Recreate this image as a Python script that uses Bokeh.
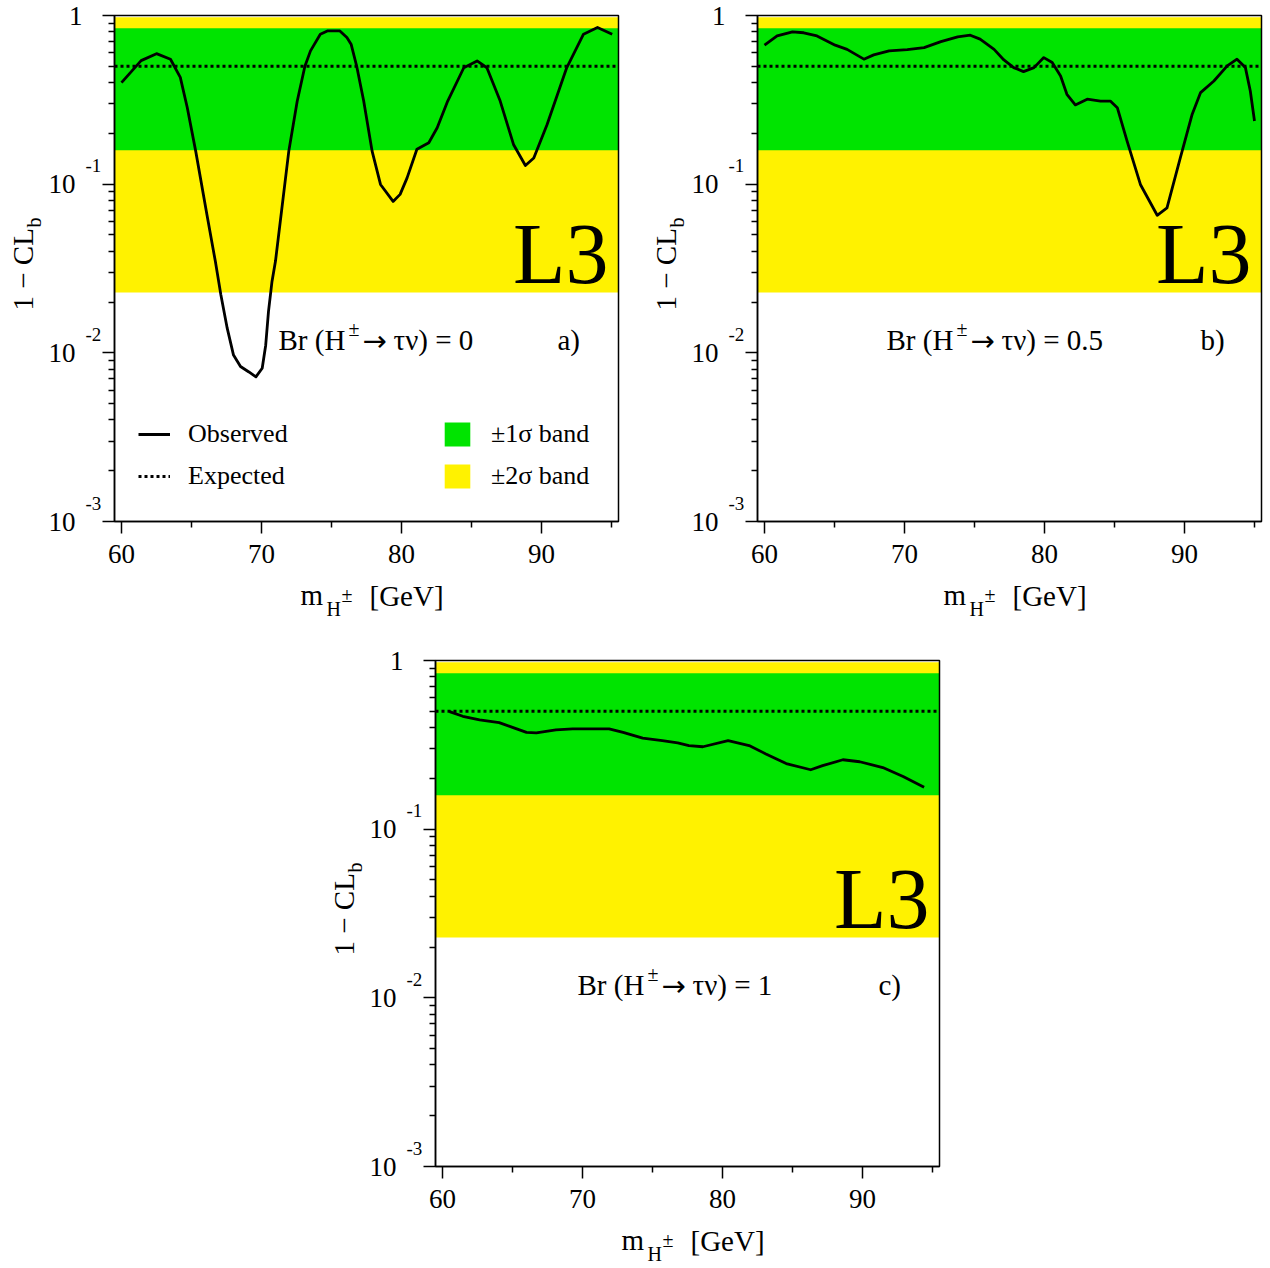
import math

from bokeh.plotting import figure
from bokeh.layouts import column, row, Spacer
from bokeh.models import FixedTicker, Label, Legend, LegendItem, BoxAnnotation
from bokeh.embed import file_html
from bokeh.resources import INLINE

# 1 - CL_b versus charged Higgs mass, three branching ratio hypotheses
mass_a = [60.0, 61.4, 62.5, 63.5, 64.2, 64.7, 65.3, 66.1, 66.7, 67.1, 67.55, 68.0,
          68.5, 69.1, 69.6, 70.05, 70.3, 70.5, 70.75, 71.0, 71.95, 72.55, 73.1, 73.5,
          74.2, 74.7, 75.6, 76.1, 76.4, 76.8, 77.3, 77.9, 78.5, 79.4, 79.9, 80.4,
          81.1, 81.95, 82.55, 83.3, 84.45, 85.4, 86.1, 87.05, 88.0, 88.85, 89.45,
          90.4, 91.8, 93.0, 94.0, 95.05]
obs_a = [0.40, 0.54, 0.594, 0.55, 0.43, 0.284, 0.157, 0.066, 0.035, 0.022, 0.014, 0.0097,
         0.0083, 0.0077, 0.0072, 0.0081, 0.0111, 0.0176, 0.0265, 0.035, 0.157, 0.31, 0.5, 0.617,
         0.775, 0.81, 0.81, 0.74, 0.676, 0.5, 0.311, 0.157, 0.0996, 0.079, 0.087, 0.109,
         0.161, 0.176, 0.216, 0.311, 0.49, 0.538, 0.49, 0.311, 0.172, 0.129, 0.143,
         0.226, 0.49, 0.775, 0.85, 0.775]

mass_b = [60.0, 60.9, 62.0, 62.8, 63.75, 65.05, 65.9, 67.1, 67.8, 68.9, 70.2, 71.4,
          72.6, 73.8, 74.7, 75.4, 76.4, 77.1, 77.8, 78.5, 79.25, 79.95, 80.55, 81.15,
          81.6, 82.2, 83.05, 84.0, 84.7, 85.2, 85.9, 86.85, 88.05, 88.75, 89.7, 90.55,
          91.15, 92.1, 93.05, 93.75, 94.35, 94.7, 95.0]
obs_b = [0.667, 0.757, 0.80, 0.79, 0.757, 0.667, 0.63, 0.551, 0.584, 0.617, 0.628, 0.645,
         0.70, 0.747, 0.764, 0.724, 0.63, 0.545, 0.491, 0.465, 0.491, 0.563, 0.526, 0.438,
         0.341, 0.295, 0.319, 0.311, 0.311, 0.284, 0.18, 0.0996, 0.0654, 0.0723, 0.143, 0.26,
         0.349, 0.409, 0.503, 0.551, 0.491, 0.357, 0.237]

mass_c = [60.5, 61.45, 62.65, 64.05, 65.0, 66.0, 66.7, 68.1, 69.3, 71.9, 72.9, 74.3,
          75.7, 76.8, 77.6, 78.6, 80.4, 81.9, 83.1, 84.55, 86.3, 87.15, 88.6, 89.8,
          91.45, 92.9, 94.4]
obs_c = [0.498, 0.467, 0.444, 0.428, 0.401, 0.375, 0.372, 0.388, 0.393, 0.393, 0.375, 0.347,
         0.335, 0.325, 0.313, 0.308, 0.335, 0.313, 0.279, 0.245, 0.225, 0.238, 0.258, 0.251,
         0.232, 0.205, 0.177]

expected = 0.5
band_1s = [0.159, 0.841]
band_2s = [0.0228, 0.977]

x_ticks = [60, 70, 80, 90]
x_minor = [65, 75, 85, 95]
y_ticks = [0.001, 0.01, 0.1, 1]
y_exps = ["-3", "-2", "-1"]
br_values = ["0", "0.5", "1"]
tags = ["a)", "b)", "c)"]

XMIN, XMAX = 59.5, 95.5
YMIN, YMAX = 1e-3, 1.0
FW, FH = 504, 506
NDEC = math.log10(YMAX) - math.log10(YMIN)
PX_X = FW / (XMAX - XMIN)
PX_DEC = FH / NDEC
GREEN = "#00e400"
YELLOW = "#fff200"
FONT = "Liberation Serif"
MID = 0.34  # em distance from alphabetic baseline to the middle line


def fx(px):
    # pixels from the left edge of the box -> data x
    return XMIN + px / PX_X


def fy(py):
    # pixels from the top edge of the box -> data y (log)
    return 10 ** (math.log10(YMAX) - py / PX_DEC)


def tick_py(t):
    return (math.log10(YMAX) - math.log10(t)) * PX_DEC


def text(p, px, py, s, size, align="left", rotated=False, font=FONT, centred=False):
    # (px, py) is the baseline start unless centred
    if not centred:
        if rotated:
            px -= MID * size
        else:
            py -= MID * size
    p.add_layout(Label(x=fx(px), y=fy(py), text=s, text_font=font,
                       text_font_size=f"{size}px", text_align=align,
                       text_baseline="middle", angle=math.pi / 2 if rotated else 0.0,
                       text_color="black"))


def panel(mass, obs, br, tag, br_px, left, top, right, bottom, legend=False):
    # the frame spans the whole canvas; the axes sit at fixed data locations
    p = figure(frame_width=left + FW + right, frame_height=top + FH + bottom,
               x_range=(XMIN - left / PX_X, XMAX + right / PX_X),
               y_range=(10 ** (math.log10(YMIN) - bottom / PX_DEC),
                        10 ** (math.log10(YMAX) + top / PX_DEC)),
               y_axis_type="log", output_backend="svg", toolbar_location=None,
               min_border=0)
    p.xgrid.visible = False
    p.ygrid.visible = False
    p.outline_line_color = None

    r2 = p.varea(x=[XMIN, XMAX], y1=[band_2s[0]] * 2, y2=[band_2s[1]] * 2, fill_color=YELLOW)
    r1 = p.varea(x=[XMIN, XMAX], y1=[band_1s[0]] * 2, y2=[band_1s[1]] * 2, fill_color=GREEN)
    re = p.line(x=[XMIN, XMAX], y=[expected] * 2, line_color="black", line_width=3,
                line_dash="3 3")
    ro = p.line(mass, obs, line_color="black", line_width=2.8, line_join="round")

    p.add_layout(BoxAnnotation(left=XMIN, right=XMAX, bottom=YMIN, top=YMAX,
                               fill_color=None, fill_alpha=0, line_color="black",
                               line_width=1.5, line_alpha=1.0))

    for ax in (p.xaxis[0], p.yaxis[0]):
        ax.axis_line_width = 1.5
        ax.major_tick_in = 0
        ax.major_tick_out = 12
        ax.minor_tick_in = 0
        ax.minor_tick_out = 6
        ax.major_tick_line_width = 1.5
        ax.minor_tick_line_width = 1.5
        ax.major_label_text_font = FONT
        ax.major_label_text_font_size = "27px"
        ax.major_label_text_color = "black"
    p.xaxis.fixed_location = YMIN
    p.xaxis.bounds = (XMIN, XMAX)
    p.xaxis.ticker = FixedTicker(ticks=x_ticks, minor_ticks=x_minor)
    p.xaxis.major_label_standoff = 11
    p.yaxis.fixed_location = XMIN
    p.yaxis.bounds = (YMIN, YMAX)
    p.yaxis.ticker = FixedTicker(ticks=y_ticks,
                                 minor_ticks=[m * 10.0 ** e for e in (-3, -2, -1) for m in range(2, 10)])
    p.yaxis.major_label_overrides = {0.001: "10", 0.01: "10", 0.1: "10", 1: ""}
    p.yaxis.major_label_standoff = 27

    # exponents of the decade labels and the top "1"
    for t, e in zip(y_ticks[:3], y_exps):
        text(p, -29, tick_py(t) - 12, e, 19)
    text(p, -32, 10, "1", 27, align="right")

    # axis titles
    text(p, -82, 295, "1 \u2212 CL", 29, rotated=True)
    text(p, -74, 212, "b", 20, rotated=True)
    text(p, 186, 589, "m", 29)
    text(p, 212, 600, "H", 20)
    text(p, 227, 586, "\u00b1", 20)
    text(p, 255, 590, "[GeV]", 29)

    # in-frame annotations
    text(p, br_px, 334, "Br (H", 29)
    text(p, br_px + 70, 320, "\u00b1", 20)
    text(p, br_px + 84, 325, "\u2192", 29, font="DejaVu Sans", centred=True)
    text(p, br_px + 115, 334, "\u03c4\u03bd) = " + br, 29)
    text(p, 443, 334, tag, 29)
    text(p, 494, 268, "L3", 86, align="right")

    if legend:
        lg = Legend(items=[LegendItem(label="Observed", renderers=[ro]),
                           LegendItem(label="Expected", renderers=[re]),
                           LegendItem(label="\u00b11\u03c3 band", renderers=[r1]),
                           LegendItem(label="\u00b12\u03c3 band", renderers=[r2])],
                    location=(left + 24, bottom + 30), ncols=2, padding=0, margin=0,
                    spacing=12, glyph_width=32, glyph_height=30, label_standoff=18,
                    label_width=241, label_height=24,
                    label_text_font=FONT, label_text_font_size="26px",
                    label_text_color="black",
                    border_line_alpha=0, background_fill_alpha=0)
        p.add_layout(lg)
    return p


pa = panel(mass_a, obs_a, br_values[0], tags[0], 164, 114, 15, 33, 117, legend=True)
pb = panel(mass_b, obs_b, br_values[1], tags[1], 129, 106, 15, 2, 117)
pc = panel(mass_c, obs_c, br_values[2], tags[2], 142, 106, 22, 2, 101)

layout = column(row(pa, pb), row(Spacer(width=329), pc))

open("out.html", "w").write(file_html(layout, INLINE))
